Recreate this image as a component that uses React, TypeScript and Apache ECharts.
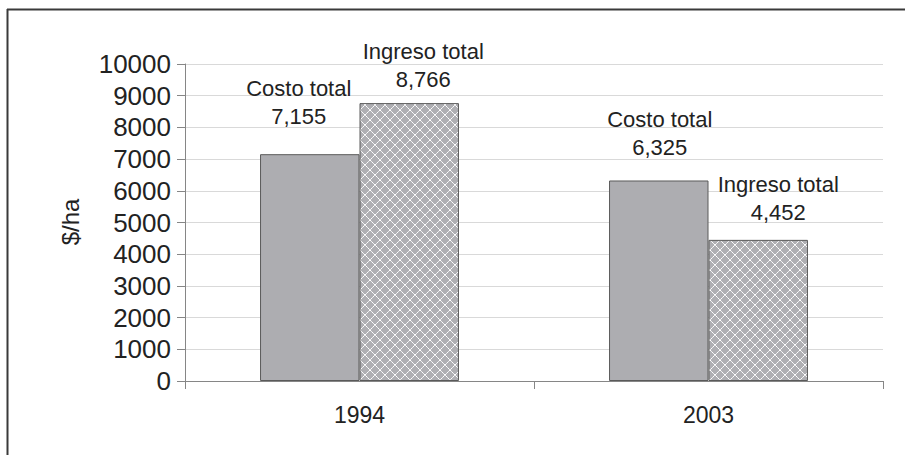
import React, { useEffect, useRef } from "react";
import * as echarts from "echarts";

const categories = ["1994", "2003"];
const costoTotal = [7155, 6325];
const ingresoTotal = [8766, 4452];
const seriesNames = ["Costo total", "Ingreso total"];
const yTicks = { min: 0, max: 10000, interval: 1000 };

// label offsets (style)
const costoOffsets = [[-11, -24], [1, -19]];
const ingresoOffsets = [[14, -10], [20, -13]];

const FONT = "'Liberation Sans', Arial, sans-serif";

function makePattern(): HTMLCanvasElement {
  const c = document.createElement("canvas");
  const n = 10;
  c.width = n;
  c.height = n;
  const ctx = c.getContext("2d")!;
  ctx.fillStyle = "#afafb3";
  ctx.fillRect(0, 0, n, n);
  for (let i = 0; i < n; i++) {
    ctx.fillStyle = i % 2 === 0 ? "#ffffff" : "#ececee";
    ctx.fillRect(i, i, 1, 1);
    ctx.fillRect(n - 1 - i, i, 1, 1);
  }
  return c;
}

const fmt = (v: number) => v.toLocaleString("en-US");

export default function App() {
  const ref = useRef<HTMLDivElement>(null);
  useEffect(() => {
    if (!ref.current) return;
    const chart = echarts.init(ref.current, null, { renderer: "svg" });
    const pat = makePattern();
    const labelBase = {
      show: true,
      position: "top" as const,
      distance: 0,
      color: "#222",
      fontFamily: FONT,
      fontSize: 22,
      lineHeight: 28,
      rich: {
        n: { fontSize: 22, fontFamily: FONT, color: "#222", lineHeight: 28 },
        v: { fontSize: 22, fontFamily: FONT, color: "#222", lineHeight: 28 },
      },
      formatter: (p: any) => `{n|${p.seriesName}}\n{v|${fmt(p.value)}}`,
    };
    chart.setOption({
      animation: false,
      backgroundColor: "#ffffff",
      textStyle: { fontFamily: FONT },
      grid: { left: 185, right: 22, top: 64, bottom: 74, containLabel: false },
      graphic: [
        { type: "line", shape: { x1: 7, y1: 9.5, x2: 905, y2: 9.5 }, style: { stroke: "#3a3a3a", lineWidth: 2 } },
        { type: "line", shape: { x1: 7.5, y1: 9, x2: 7.5, y2: 455 }, style: { stroke: "#3a3a3a", lineWidth: 2 } },
        {
          type: "text",
          x: 70,
          y: 222,
          rotation: Math.PI / 2,
          style: { text: "$/ha", font: `24px ${FONT}`, fill: "#222", align: "center", verticalAlign: "middle" },
        },
      ],
      xAxis: {
        type: "category",
        data: categories,
        axisLine: { lineStyle: { color: "#868686", width: 1 } },
        axisTick: { show: true, length: 8, alignWithLabel: false, lineStyle: { color: "#868686" } },
        axisLabel: { fontSize: 23, color: "#222", fontFamily: FONT, margin: 22 },
        splitLine: { show: false },
      },
      yAxis: {
        type: "value",
        min: yTicks.min,
        max: yTicks.max,
        interval: yTicks.interval,
        axisLine: { show: true, lineStyle: { color: "#868686", width: 1 } },
        axisTick: { show: true, length: 8, lineStyle: { color: "#868686" } },
        axisLabel: {
          fontSize: 26,
          color: "#222",
          fontFamily: FONT,
          margin: 14,
          formatter: (v: number) => String(v),
        },
        splitLine: { show: true, lineStyle: { color: "#d9d9d9", width: 1 } },
      },
      series: [
        {
          name: seriesNames[0],
          type: "bar",
          barGap: "0%",
          barCategoryGap: "43%",
          itemStyle: { color: "#adadb1", borderColor: "#5a5a5a", borderWidth: 1 },
          data: costoTotal.map((v, i) => ({
            value: v,
            label: { ...labelBase, offset: costoOffsets[i] },
          })),
        },
        {
          name: seriesNames[1],
          type: "bar",
          barGap: "0%",
          barCategoryGap: "43%",
          itemStyle: {
            color: { image: pat, repeat: "repeat", imageWidth: 10, imageHeight: 10 } as any,
            borderColor: "#5a5a5a",
            borderWidth: 1,
          },
          data: ingresoTotal.map((v, i) => ({
            value: v,
            label: { ...labelBase, offset: ingresoOffsets[i] },
          })),
        },
      ],
    });
    return () => chart.dispose();
  }, []);
  return <div ref={ref} style={{ width: 905, height: 455, position: "absolute", left: 0, top: 0 }} />;
}
